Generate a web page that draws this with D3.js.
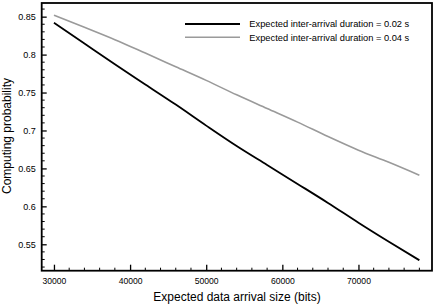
<!DOCTYPE html>
<html><head><meta charset="utf-8">
<script src="https://cdn.jsdelivr.net/npm/d3@7"></script>
<style>body{margin:0;background:#fff;} text{font-family:"Liberation Sans",Arial,sans-serif;}</style>
</head><body><svg id="c" width="436" height="305"></svg>
<script>
const xValues = [30000, 34000, 38000, 42000, 46000, 50000, 54000, 58000, 62000, 66000, 70000, 74000, 78000];
const series002 = [0.842, 0.8146, 0.7872, 0.7606, 0.7341, 0.7064, 0.6795, 0.6545, 0.6296, 0.6045, 0.5784, 0.5533, 0.529];
const series004 = [0.852, 0.836, 0.8197, 0.802, 0.784, 0.766, 0.747, 0.729, 0.711, 0.692, 0.674, 0.658, 0.641];
const seriesNames = ["Expected inter-arrival duration = 0.02 s", "Expected inter-arrival duration = 0.04 s"];
const seriesColors = ["#000000", "#9a9a9a"];
const xTicks = [30000, 40000, 50000, 60000, 70000];
const yTicks = [0.55, 0.6, 0.65, 0.7, 0.75, 0.8, 0.85];
const xTitle = "Expected data arrival size (bits)";
const yTitle = "Computing probability";

const svg = d3.select("#c");
const L = 41.7, R = 432, T = 3, B = 270.7;
const x = d3.scaleLinear().domain([28390, 79660]).range([L, R]);
const y = d3.scaleLinear().domain([0.5152, 0.868]).range([B, T]);

const xMinor = d3.range(28000, 80001, 2000).filter(v => v >= 28390 && v <= 79660 && v % 10000 !== 0);
const yMinor = d3.range(52, 87).map(v => v / 100).filter(v => Math.round(v * 100) % 5 !== 0 && v >= 0.5152 && v <= 0.868);

const g = svg.append("g");
g.selectAll(".xm").data(xMinor).join("line")
  .attr("x1", d => x(d)).attr("x2", d => x(d)).attr("y1", B).attr("y2", B - 3)
  .attr("stroke", "#000").attr("stroke-width", 1);
g.selectAll(".ym").data(yMinor).join("line")
  .attr("y1", d => y(d)).attr("y2", d => y(d)).attr("x1", L).attr("x2", L + 3)
  .attr("stroke", "#000").attr("stroke-width", 1);

const xAxis = d3.axisBottom(x).tickValues(xTicks).tickFormat(d3.format("d")).tickSizeInner(-6).tickSizeOuter(0).tickPadding(7);
const yAxis = d3.axisLeft(y).tickValues(yTicks).tickFormat(d => String(+d.toFixed(2))).tickSizeInner(-5).tickSizeOuter(0).tickPadding(6);
const gx = svg.append("g").attr("transform", `translate(0,${B})`).call(xAxis);
const gy = svg.append("g").attr("transform", `translate(${L},0)`).call(yAxis);
[gx, gy].forEach(a => {
  a.select(".domain").remove();
  a.selectAll(".tick line").attr("stroke", "#000").attr("stroke-width", 1.3);
  a.selectAll(".tick text").attr("font-size", 9).attr("fill", "#000");
});
gx.selectAll(".tick text").attr("font-size", 8.6);

svg.append("rect").attr("x", L).attr("y", T).attr("width", R - L).attr("height", B - T)
  .attr("fill", "none").attr("stroke", "#000").attr("stroke-width", 1.8);

const line = d3.line().x((d, i) => x(xValues[i])).y(d => y(d)).curve(d3.curveMonotoneX);
[series002, series004].forEach((s, i) => {
  svg.append("path").datum(s).attr("d", line).attr("fill", "none")
    .attr("stroke", seriesColors[i]).attr("stroke-width", i === 0 ? 1.8 : 1.6);
});

const legY = [24, 37.3];
seriesNames.forEach((n, i) => {
  svg.append("line").attr("x1", 185).attr("x2", 240).attr("y1", legY[i]).attr("y2", legY[i])
    .attr("stroke", seriesColors[i]).attr("stroke-width", i === 0 ? 1.8 : 1.6);
  svg.append("text").attr("x", 249.3).attr("y", legY[i] + 3.2).attr("font-size", 9.3).attr("fill", "#000").text(n);
});

svg.append("text").attr("x", 237).attr("y", 300.5).attr("text-anchor", "middle").attr("font-size", 12).attr("fill", "#000").text(xTitle);
svg.append("text").attr("transform", "translate(10.5,136) rotate(-90)").attr("text-anchor", "middle").attr("font-size", 12).attr("fill", "#000").text(yTitle);
</script></body></html>
